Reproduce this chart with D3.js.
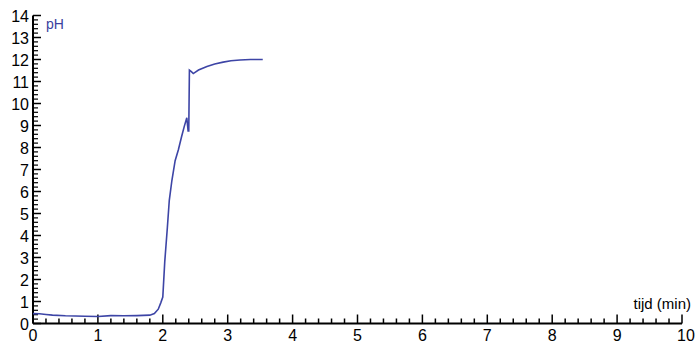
<!DOCTYPE html>
<html>
<head>
<meta charset="utf-8">
<script src="https://cdn.jsdelivr.net/npm/d3@7"></script>
<style>
  body { margin: 0; background: #fff; }
  svg { display: block; }
  text { font-family: "Liberation Sans", Arial, sans-serif; }
</style>
</head>
<body>
<svg id="chart" width="699" height="343"></svg>
<script>
// time in minutes, pH
var tijd = [0, 0.1, 0.2, 0.3, 0.5, 0.8, 1.0, 1.2, 1.4, 1.6, 1.8, 1.87, 1.93, 1.97, 2.0, 2.03, 2.07, 2.10, 2.14, 2.19, 2.24, 2.29, 2.33, 2.37, 2.39, 2.40, 2.41, 2.44, 2.47, 2.55, 2.68, 2.8, 2.93, 3.05, 3.19, 3.35, 3.54]
var ph   = [0.45, 0.44, 0.41, 0.38, 0.35, 0.33, 0.32, 0.36, 0.35, 0.36, 0.38, 0.45, 0.65, 0.95, 1.2, 2.8, 4.35, 5.6, 6.5, 7.4, 7.9, 8.5, 8.95, 9.35, 8.75, 8.75, 11.52, 11.45, 11.36, 11.52, 11.68, 11.8, 11.88, 11.94, 11.98, 12.0, 12.0]

var xTicks = [0, 1, 2, 3, 4, 5, 6, 7, 8, 9, 10]
var yTicks = [0, 1, 2, 3, 4, 5, 6, 7, 8, 9, 10, 11, 12, 13, 14]

var svg = d3.select("#chart")

var x = d3.scaleLinear().domain([0, 10]).range([33, 682])
var y = d3.scaleLinear().domain([0, 14]).range([323.5, 15.5])

// minor ticks every 0.2
var xMinor = d3.range(0, 50).map(function(i){ return i / 5 }).filter(function(d){ return d % 1 != 0 })
var yMinor = d3.range(0, 70).map(function(i){ return i / 5 }).filter(function(d){ return d % 1 != 0 })

// x axis
svg.append("line")
  .attr("x1", x(0)).attr("x2", x(10))
  .attr("y1", y(0)).attr("y2", y(0))
  .style("stroke", "#000").style("stroke-width", 2)

svg.selectAll(".xmaj").data(xTicks).enter().append("line")
  .attr("class", "xmaj")
  .attr("x1", function(d){ return x(d) }).attr("x2", function(d){ return x(d) })
  .attr("y1", y(0)).attr("y2", y(0) - 9)
  .style("stroke", "#000").style("stroke-width", 1.5)

svg.selectAll(".xmin").data(xMinor).enter().append("line")
  .attr("class", "xmin")
  .attr("x1", function(d){ return x(d) }).attr("x2", function(d){ return x(d) })
  .attr("y1", y(0)).attr("y2", y(0) - 5)
  .style("stroke", "#000").style("stroke-width", 1.5)

svg.selectAll(".xlab").data(xTicks).enter().append("text")
  .attr("class", "xlab")
  .attr("x", function(d){ return x(d) + (d == 10 ? 4 : 0) })
  .attr("y", 341)
  .attr("text-anchor", "middle")
  .style("font-size", "16px")
  .text(function(d){ return d })

// y axis
svg.append("line")
  .attr("x1", x(0)).attr("x2", x(0))
  .attr("y1", y(0)).attr("y2", y(14))
  .style("stroke", "#000").style("stroke-width", 2)

svg.selectAll(".ymaj").data(yTicks).enter().append("line")
  .attr("class", "ymaj")
  .attr("x1", x(0)).attr("x2", x(0) + 8)
  .attr("y1", function(d){ return y(d) }).attr("y2", function(d){ return y(d) })
  .style("stroke", "#000").style("stroke-width", 1.5)

svg.selectAll(".ymin").data(yMinor).enter().append("line")
  .attr("class", "ymin")
  .attr("x1", x(0)).attr("x2", x(0) + 5)
  .attr("y1", function(d){ return y(d) }).attr("y2", function(d){ return y(d) })
  .style("stroke", "#000").style("stroke-width", 1.2)

svg.selectAll(".ylab").data(yTicks).enter().append("text")
  .attr("class", "ylab")
  .attr("x", 29)
  .attr("y", function(d){ return y(d) + 6 })
  .attr("text-anchor", "end")
  .style("font-size", "16px")
  .text(function(d){ return d })

// axis titles
svg.append("text")
  .attr("x", 46).attr("y", 29)
  .style("font-size", "14px").style("fill", "#3a3f9e")
  .text("pH")

svg.append("text")
  .attr("x", 691).attr("y", 309)
  .attr("text-anchor", "end")
  .style("font-size", "15px").style("fill", "#000")
  .text("tijd (min)")

// curve
var line = d3.line()
  .x(function(d){ return x(d[0]) })
  .y(function(d){ return y(d[1]) })

svg.append("path")
  .datum(d3.zip(tijd, ph))
  .attr("d", line)
  .style("fill", "none")
  .style("stroke", "#3d45a6")
  .style("stroke-width", 1.6)
</script>
</body>
</html>
